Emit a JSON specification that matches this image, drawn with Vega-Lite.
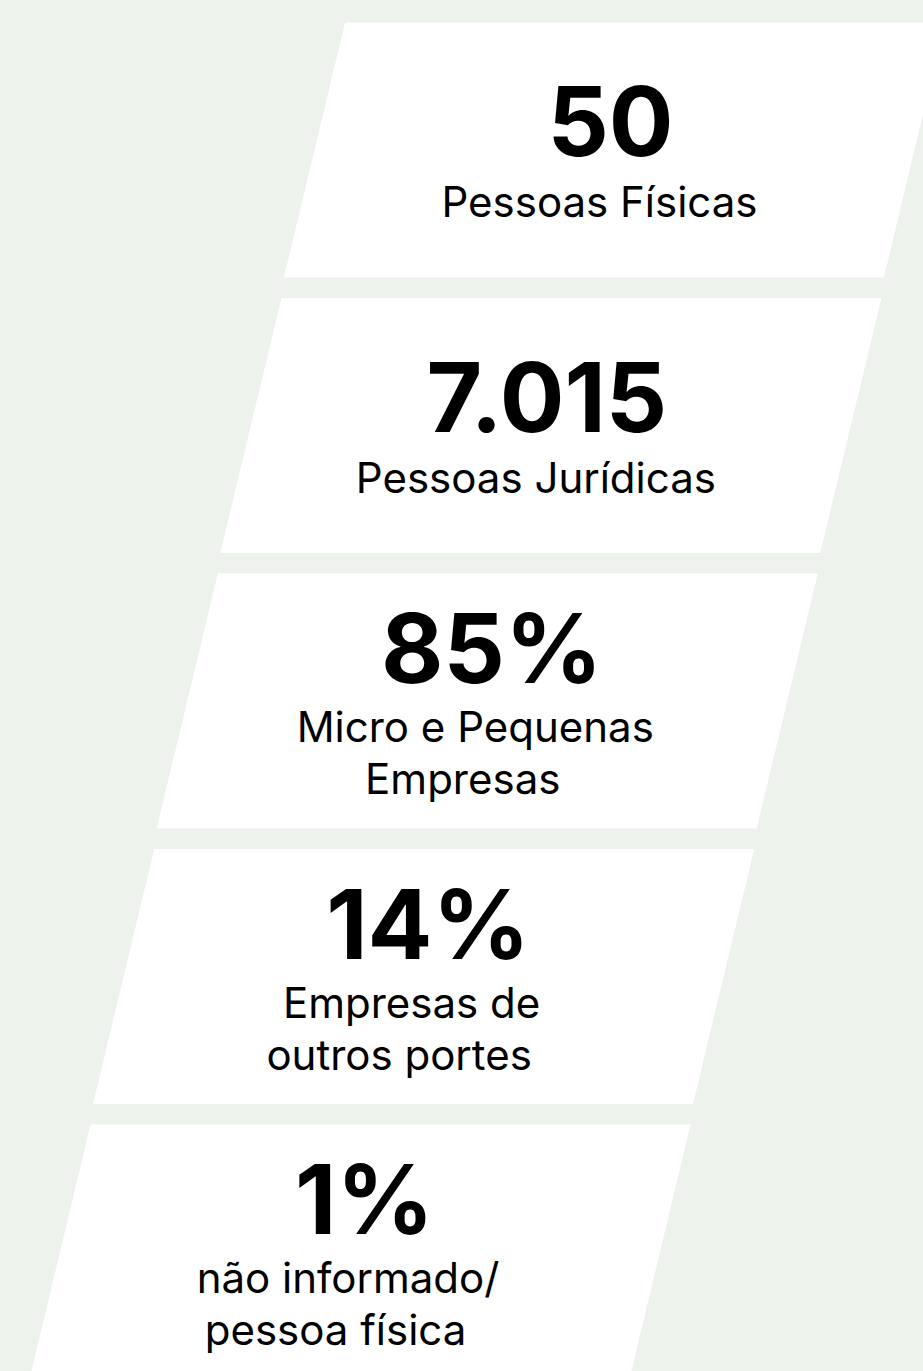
{
  "$schema": "https://vega.github.io/schema/vega-lite/v6.json",
  "width": 923,
  "height": 1371,
  "padding": 0,
  "autosize": {"type": "none"},
  "background": "#edf2ec",
  "config": {"view": {"stroke": null}},
  "data": {"values": [
    {"ordem": 1, "valor": "50", "linha1": "Pessoas Físicas", "linha2": "", "linhas": 1},
    {"ordem": 2, "valor": "7.015", "linha1": "Pessoas Jurídicas", "linha2": "", "linhas": 1},
    {"ordem": 3, "valor": "85%", "linha1": "Micro e Pequenas", "linha2": "Empresas", "linhas": 2},
    {"ordem": 4, "valor": "14%", "linha1": "Empresas de", "linha2": "outros portes", "linhas": 2},
    {"ordem": 5, "valor": "1%", "linha1": "não informado/", "linha2": "pessoa física", "linhas": 2}
  ]},
  "encoding": {
    "x": {"field": "ordem", "type": "quantitative", "scale": {"domain": [1, 5], "range": [614.5, 360], "nice": false, "zero": false}, "axis": null},
    "y": {"field": "ordem", "type": "quantitative", "scale": {"domain": [1, 5], "range": [150, 1252], "nice": false, "zero": false}, "axis": null}
  },
  "layer": [
    {
      "mark": {"type": "point", "shape": "M-0.898,-0.425L1.102,-0.425L0.898,0.425L-1.102,0.425Z", "size": 360000, "filled": true, "fill": "#ffffff", "opacity": 1, "strokeWidth": 0}
    },
    {
      "transform": [{"filter": "datum.linhas == 1"}],
      "mark": {"type": "text", "align": "center", "baseline": "alphabetic", "font": "Inter", "fontSize": 96, "fontWeight": 700, "color": "#000000", "dx": -4, "dy": 6},
      "encoding": {"text": {"field": "valor"}}
    },
    {
      "transform": [{"filter": "datum.linhas == 1"}],
      "mark": {"type": "text", "align": "center", "baseline": "alphabetic", "font": "Inter", "fontSize": 42, "fontWeight": 400, "color": "#000000", "dx": -15, "dy": 67},
      "encoding": {"text": {"field": "linha1"}}
    },
    {
      "transform": [{"filter": "datum.linhas == 2"}],
      "mark": {"type": "text", "align": "center", "baseline": "alphabetic", "font": "Inter", "fontSize": 96, "fontWeight": 700, "color": "#000000", "dx": 4.5, "dy": -18},
      "encoding": {"text": {"field": "valor"}}
    },
    {
      "transform": [{"filter": "datum.linhas == 2"}],
      "mark": {"type": "text", "align": "center", "baseline": "alphabetic", "font": "Inter", "fontSize": 42, "fontWeight": 400, "color": "#000000", "dx": -12, "dy": 41},
      "encoding": {"text": {"field": "linha1"}}
    },
    {
      "transform": [{"filter": "datum.linhas == 2"}],
      "mark": {"type": "text", "align": "center", "baseline": "alphabetic", "font": "Inter", "fontSize": 42, "fontWeight": 400, "color": "#000000", "dx": -24.5, "dy": 93},
      "encoding": {"text": {"field": "linha2"}}
    }
  ]
}
